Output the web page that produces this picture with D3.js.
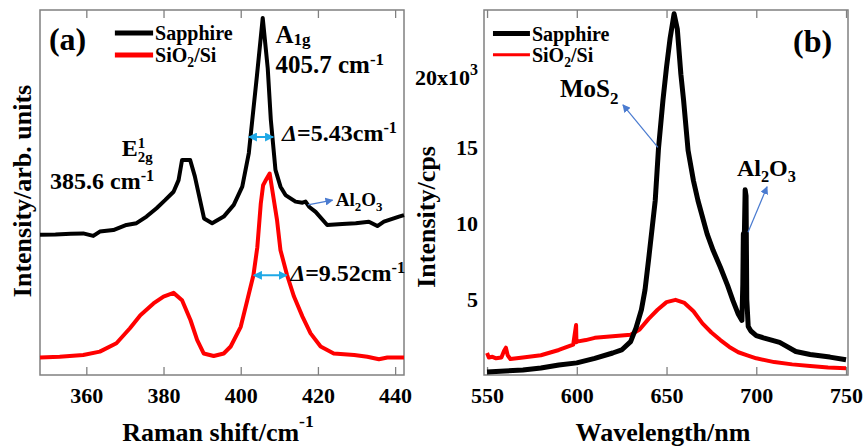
<!DOCTYPE html>
<html>
<head>
<meta charset="utf-8">
<script src="https://cdn.jsdelivr.net/npm/d3@7"></script>
<style>
  body { margin: 0; background: #fff; }
  svg text { font-family: "Liberation Serif", "DejaVu Serif", serif; font-weight: bold; }
</style>
</head>
<body>
<svg id="chart" width="864" height="448"></svg>
<script>
// (a) Raman spectra, arbitrary units (0-100)
var ramanShiftSapphire = [348, 352, 356, 359.2, 361.8, 363.5, 367, 370.4, 373, 375.6, 378.2, 380.4, 382.6, 383.9, 384.8, 386.9, 388.1, 390.5, 392.6, 395.6, 398.2, 400.4, 402.1, 403, 404.2, 405.7, 407, 407.8, 408.6, 409, 410.3, 411.6, 414.2, 416, 416.8, 417.7, 419.4, 422.4, 426.3, 429.8, 433.2, 435.4, 437.1, 441, 442.3];
var ramanSapphire = [38.4, 38.5, 38.7, 38.8, 38.1, 39.3, 39.7, 41.1, 41.6, 43.4, 45.7, 47.9, 50.2, 53.4, 58.9, 58.9, 54.5, 42.9, 41.6, 43.4, 46.6, 51.6, 60.8, 69.9, 82, 97.8, 84, 69.9, 60.8, 56.2, 51.6, 49.3, 47.5, 47.2, 47.5, 46.1, 44.7, 41.1, 41.4, 41.6, 42.0, 40.8, 42.0, 43.4, 43.8];
var ramanShiftSiO2 = [348, 353.1, 359.2, 363.5, 367.8, 371.3, 374, 377.4, 380, 382.6, 384.8, 387, 388.7, 390.4, 393, 395.6, 397.4, 400, 401.7, 403.3, 404.3, 405.2, 405.8, 406.4, 407.5, 408.5, 409.4, 410.3, 412, 413.8, 416, 418.1, 420.7, 424.1, 429.4, 432.8, 435.8, 438, 441.5, 442.3];
var ramanSiO2 = [4.8, 5.0, 5.5, 6.4, 8.7, 12.8, 16.4, 19.6, 21.5, 22.5, 20.5, 15.0, 9.6, 5.9, 5.2, 5.9, 7.8, 13.2, 20.5, 27.4, 35, 47, 52, 53.2, 55.2, 48.5, 42.5, 34.2, 27.4, 21.5, 16.0, 11.4, 7.8, 5.9, 5.5, 5.0, 4.3, 4.8, 4.8, 4.8];
var ramanTicks = [360, 380, 400, 420, 440];

// (b) PL spectra, intensity in 10^3 cps
var plWavelengthSapphire = [550, 560, 570, 580, 590, 600, 610, 620, 625, 630, 633, 636, 638, 640, 642, 643.7, 645.5, 648, 650, 652, 654.2, 656, 658, 659.5, 662, 665, 667.5, 672.6, 676, 680, 684, 687, 690, 692, 692.5, 692.8, 693.3, 693.8, 694.3, 694.7, 695.5, 697, 700, 704, 710, 713, 716, 722, 730, 741, 750];
var plSapphire = [0.2, 0.27, 0.33, 0.46, 0.66, 0.8, 1.1, 1.45, 1.65, 2.2, 3.1, 4.3, 5.6, 7.6, 9.7, 11.5, 14.9, 18.1, 20.3, 22.2, 23.8, 22.8, 19.8, 18.1, 14.8, 12.8, 11.5, 9.3, 8.2, 7.1, 5.9, 4.9, 4.0, 3.6, 6.0, 9.3, 8.8, 12.2, 11.8, 5.0, 3.2, 2.9, 2.6, 2.45, 2.25, 2.15, 1.95, 1.55, 1.35, 1.18, 1.0];
var plWavelengthSiO2 = [550, 551, 553, 555, 558, 559.5, 560.5, 561.5, 563, 570, 580, 590, 598, 599.6, 599.8, 600.1, 605, 610, 620, 630, 635, 640, 645, 650, 655, 660, 665, 670, 675, 680, 685, 690, 695, 700, 710, 720, 730, 740, 750];
var plSiO2 = [1.45, 1.15, 1.2, 1.1, 1.15, 1.6, 1.8, 1.3, 1.05, 1.15, 1.3, 1.65, 2.0, 3.3, 2.15, 2.2, 2.3, 2.45, 2.55, 2.65, 3.0, 3.7, 4.3, 4.8, 4.95, 4.75, 4.2, 3.4, 2.8, 2.3, 1.85, 1.5, 1.3, 1.1, 0.85, 0.7, 0.6, 0.5, 0.45];
var plTicks = [550, 600, 650, 700, 750];
var plYTicks = [5, 10, 15, 20];

var serif = "'Liberation Serif', 'DejaVu Serif', serif";
var svg = d3.select("#chart");

// arrow heads
var defs = svg.append("defs");
function marker(id, color, size) {
  defs.append("marker")
    .attr("id", id)
    .attr("viewBox", "0 0 10 10")
    .attr("refX", 9).attr("refY", 5)
    .attr("markerWidth", size).attr("markerHeight", size)
    .attr("markerUnits", "userSpaceOnUse")
    .attr("orient", "auto-start-reverse")
    .append("path")
    .attr("d", "M0,0 L10,5 L0,10 Z")
    .attr("fill", color);
}
marker("fwhm", "#1fa8e6", 9);
marker("note", "#4a7bd0", 8);

// text with sub/superscripts
// parts = [[text, "sup"|"sub"|"", italic, stackUnderPrevious, shiftEm, scale]]
function richText(g, x, y, parts, size, anchor) {
  var t = g.append("text")
    .attr("x", x).attr("y", y)
    .attr("font-family", serif)
    .attr("font-weight", "bold")
    .attr("font-size", size)
    .attr("text-anchor", anchor || "start");
  var shift = 0, prev = null;
  parts.forEach(function(p) {
    var em = p[4] != null ? p[4] : p[1] === "sup" ? -0.34 : p[1] === "sub" ? 0.25 : 0;
    var s = em * size;
    var ts = t.append("tspan").text(p[0]).attr("dy", s - shift);
    if (p[1]) ts.attr("font-size", size * (p[5] || 0.68));
    if (p[2]) ts.attr("font-style", "italic");
    if (p[3] && prev) ts.attr("x", prev.node().getStartPositionOfChar(0).x);
    shift = s;
    prev = ts;
  });
  return t;
}

function zip(xs, ys) {
  return xs.map(function(x, i) { return [x, ys[i]]; });
}

// frame + inward x ticks top and bottom
function frame(x, y, ticks) {
  var g = svg.append("g");
  var bottom = g.append("g")
    .attr("transform", "translate(0," + y.range()[0] + ")")
    .call(d3.axisBottom(x).tickValues(ticks).tickSize(-8).tickPadding(12));
  g.append("g")
    .attr("transform", "translate(0," + y.range()[1] + ")")
    .call(d3.axisTop(x).tickValues(ticks).tickSize(-8).tickFormat(""));
  g.selectAll(".domain").remove();
  g.selectAll(".tick line").attr("stroke", "#808080").attr("stroke-width", 1.3);
  bottom.attr("font-family", serif).attr("font-size", 22);
  bottom.selectAll("text").attr("fill", "#000");
  g.append("rect")
    .attr("x", x.range()[0]).attr("y", y.range()[1])
    .attr("width", x.range()[1] - x.range()[0])
    .attr("height", y.range()[0] - y.range()[1])
    .attr("fill", "none")
    .attr("stroke", "#808080")
    .attr("stroke-width", 1.5);
  return g;
}

function curve(x, y, data, color, width) {
  svg.append("path")
    .datum(data)
    .attr("fill", "none")
    .attr("stroke", color)
    .attr("stroke-width", width)
    .attr("stroke-linejoin", "round")
    .attr("d", d3.line().x(function(d) { return x(d[0]); }).y(function(d) { return y(d[1]); }));
}

function arrow(x, y, x1, y1, x2, y2, color, width, id, both) {
  var l = svg.append("line")
    .attr("x1", x(x1)).attr("y1", y(y1))
    .attr("x2", x(x2)).attr("y2", y(y2))
    .attr("stroke", color)
    .attr("stroke-width", width)
    .attr("marker-end", "url(#" + id + ")");
  if (both) l.attr("marker-start", "url(#" + id + ")");
}

function legend(x, y, x1, x2, items, lineWidths) {
  items.forEach(function(it, i) {
    svg.append("line")
      .attr("x1", x(x1)).attr("x2", x(x2))
      .attr("y1", y(it.v)).attr("y2", y(it.v))
      .attr("stroke", it.color)
      .attr("stroke-width", lineWidths[i]);
    richText(svg, x(x2) + 2, y(it.v) + 7, it.parts, 20);
  });
}

function axisTitle(x, y, text, rotate) {
  svg.append("text")
    .attr("transform", "translate(" + x + "," + y + ")" + (rotate ? " rotate(-90)" : ""))
    .attr("text-anchor", "middle")
    .attr("font-family", serif)
    .attr("font-weight", "bold")
    .attr("font-size", 26)
    .text(text);
}

// ---------- panel (a) ----------
var ax = d3.scaleLinear().domain([348, 442.3]).range([40, 404]);
var ay = d3.scaleLinear().domain([0, 100]).range([375, 10]);

frame(ax, ay, ramanTicks);
curve(ax, ay, zip(ramanShiftSapphire, ramanSapphire), "#000", 4);
curve(ax, ay, zip(ramanShiftSiO2, ramanSiO2), "#ff0000", 4);

richText(svg, ax(350.3), ay(89), [["(a)"]], 32);
legend(ax, ay, 367.4, 377.3, [
  { v: 93.7, color: "#000", parts: [["Sapphire"]] },
  { v: 87.7, color: "#ff0000", parts: [["SiO"], ["2", "sub"], ["/Si"]] }
], [5, 5]);

richText(svg, ax(409.0), ay(91), [["A"], ["1g", "sub", false, false, 0.1]], 25);
richText(svg, ax(409.0), ay(82.7), [["405.7 cm"], ["-1", "sup"]], 25);
richText(svg, ax(369.2), ay(60), [["E"], ["1", "sup", false, false, -0.34, 0.62], ["2g", "sub", false, true, 0.27, 0.62]], 24);
richText(svg, ax(350.6), ay(51), [["385.6 cm"], ["-1", "sup"]], 24);

arrow(ax, ay, 402.1, 65.2, 408.4, 65.2, "#1fa8e6", 2, "fwhm", true);
richText(svg, ax(410.7), ay(64.1), [["\u0394", "", true], ["=5.43cm"], ["-1", "sup"]], 24);
arrow(ax, ay, 403.4, 27.3, 411.9, 27.3, "#1fa8e6", 2, "fwhm", true);
richText(svg, ax(412.8), ay(25.8), [["\u0394", "", true], ["=9.52cm"], ["-1", "sup"]], 24);

arrow(ax, ay, 417.4, 46.6, 423.8, 47.9, "#4a7bd0", 1.2, "note", false);
richText(svg, ax(424.6), ay(46.3), [["Al"], ["2", "sub"], ["O"], ["3", "sub"]], 19);

axisTitle(31, 191, "Intensity/arb. units", true);
richText(svg, 218, 441, [["Raman shift/cm"], ["-1", "sup", false, false, -0.54]], 26, "middle");

// ---------- panel (b) ----------
var bx = d3.scaleLinear().domain([548.3, 751.1]).range([484, 848]);
var by = d3.scaleLinear().domain([0, 24.05]).range([375, 10]);

frame(bx, by, plTicks);

var yAxis = svg.append("g")
  .attr("transform", "translate(" + bx.range()[0] + ",0)")
  .call(d3.axisLeft(by).tickValues(plYTicks).tickSize(0).tickPadding(6));
yAxis.select(".domain").remove();
yAxis.attr("font-family", serif).attr("font-size", 22);
yAxis.selectAll("text").attr("fill", "#000");
yAxis.selectAll(".tick").filter(function(d) { return d === 20; }).select("text")
  .attr("dy", "0.6em")
  .text("20x10")
  .append("tspan")
  .attr("dy", "-0.62em")
  .attr("font-size", 16)
  .text("3");

curve(bx, by, zip(plWavelengthSiO2, plSiO2), "#ff0000", 4);
curve(bx, by, zip(plWavelengthSapphire, plSapphire), "#000", 5);

richText(svg, bx(720.5), by(21.3), [["(b)"]], 32);
legend(bx, by, 553.3, 573.9, [
  { v: 22.5, color: "#000", parts: [["Sapphire"]] },
  { v: 21.1, color: "#ff0000", parts: [["SiO"], ["2", "sub"], ["/Si"]] }
], [5, 3]);

richText(svg, bx(590.6), by(18.3), [["MoS"], ["2", "sub"]], 25);
arrow(bx, by, 645.2, 15.0, 625.7, 17.8, "#4a7bd0", 1.2, "note", false);
richText(svg, bx(689.2), by(13.1), [["Al"], ["2", "sub"], ["O"], ["3", "sub"]], 24);
arrow(bx, by, 695.4, 9.4, 706, 12.4, "#4a7bd0", 1.2, "note", false);

axisTitle(435, 217, "Intensity/cps", true);
axisTitle(663, 441, "Wavelength/nm", false);
</script>
</body>
</html>
